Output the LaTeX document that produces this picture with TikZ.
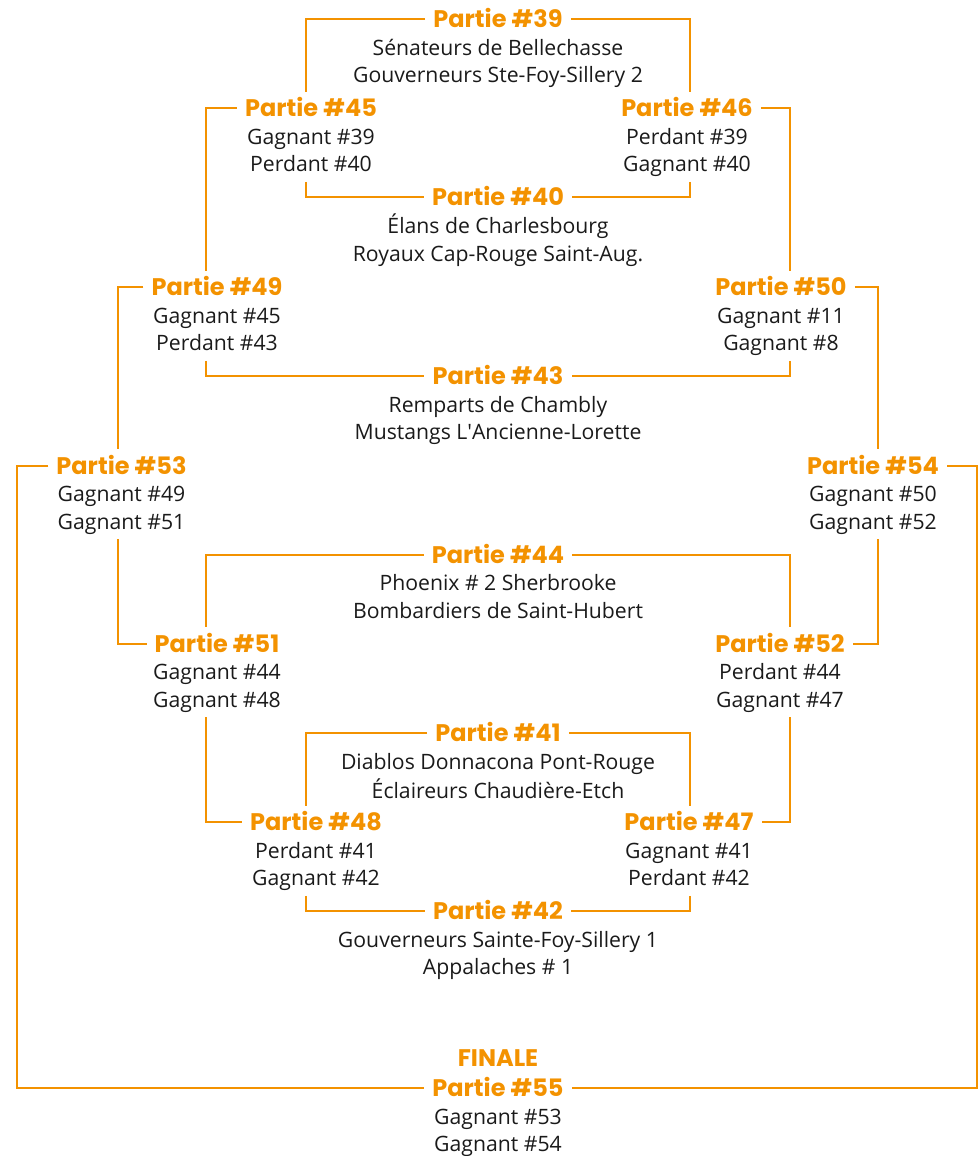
\documentclass[tikz,border=0pt]{standalone}
\usepackage{fontspec}
\setmainfont{Open Sans}
\newfontfamily\headfont{Poppins}
\definecolor{org}{RGB}{243,146,0}
\definecolor{ink}{RGB}{26,26,26}
\tikzset{
  conn/.style={draw=org, line width=2.3pt},
  head/.style={font=\headfont\bfseries\fontsize{24}{24}\selectfont, text=org,
    text height=16.5pt, text depth=0pt, inner xsep=8pt, inner ysep=8pt, anchor=base},
  body/.style={font=\fontsize{21.2}{27.5}\selectfont, align=center, inner xsep=0pt,
    inner ysep=1.75pt, anchor=north, text=ink}
}
\newcommand{\game}[6]{%
  \node[head] (h#1) at (#2,#3) {#4};
  \node[body] (t#1) at (#2,#3+6.5) {\strut #5\\#6\strut};
}
\begin{document}
\begin{tikzpicture}[x=1pt,y=-1pt]
\useasboundingbox (0,0) rectangle (978,1156);
\foreach \n/\x in {1/17,2/118,3/206,4/306,5/690,6/790,7/878,8/977}
  \coordinate (c\n) at (\x,0);

\game{39}{498}{27.5}{Partie \#39}{Sénateurs de Bellechasse}{Gouverneurs Ste-Foy-Sillery 2}
\game{45}{311}{116.5}{Partie \#45}{Gagnant \#39}{Perdant \#40}
\game{46}{687}{116.5}{Partie \#46}{Perdant \#39}{Gagnant \#40}
\game{40}{498}{205.5}{Partie \#40}{Élans de Charlesbourg}{Royaux Cap-Rouge Saint-Aug.}
\game{49}{217}{295.5}{Partie \#49}{Gagnant \#45}{Perdant \#43}
\game{50}{781}{295.5}{Partie \#50}{Gagnant \#11}{Gagnant \#8}
\game{43}{498}{384.5}{Partie \#43}{Remparts de Chambly}{Mustangs L\textquotesingle Ancienne-Lorette}
\game{53}{121.5}{474}{Partie \#53}{Gagnant \#49}{Gagnant \#51}
\game{54}{873}{474}{Partie \#54}{Gagnant \#50}{Gagnant \#52}
\game{44}{498}{563}{Partie \#44}{Phoenix \# 2 Sherbrooke}{Bombardiers de Saint-Hubert}
\game{51}{217}{652}{Partie \#51}{Gagnant \#44}{Gagnant \#48}
\game{52}{780}{652}{Partie \#52}{Perdant \#44}{Gagnant \#47}
\game{41}{498}{741.5}{Partie \#41}{Diablos Donnacona Pont-Rouge}{Éclaireurs Chaudière-Etch}
\game{48}{316}{830.5}{Partie \#48}{Perdant \#41}{Gagnant \#42}
\game{47}{689}{830.5}{Partie \#47}{Gagnant \#41}{Perdant \#42}
\game{42}{498}{919.5}{Partie \#42}{Gouverneurs Sainte-Foy-Sillery 1}{Appalaches \# 1}
\node[head] (hfin) at (498,1066) {FINALE};
\game{55}{498}{1096.5}{Partie \#55}{Gagnant \#53}{Gagnant \#54}

\draw[conn] (h39.west) -| (c4 |- h45.north);
\draw[conn] (h39.east) -| (c5 |- h46.north);
\draw[conn] (h45.west) -| (c3 |- h49.north);
\draw[conn] (c4 |- t45.south) |- (h40.west);
\draw[conn] (h46.east) -| (c6 |- h50.north);
\draw[conn] (c5 |- t46.south) |- (h40.east);
\draw[conn] (h49.west) -| (c2 |- h53.north);
\draw[conn] (c3 |- t49.south) |- (h43.west);
\draw[conn] (h50.east) -| (c7 |- h54.north);
\draw[conn] (c6 |- t50.south) |- (h43.east);
\draw[conn] (h53.west) -| (c1 |- h55.west) -- (h55.west);
\draw[conn] (c2 |- t53.south) |- (h51.west);
\draw[conn] (h54.east) -| (c8 |- h55.east) -- (h55.east);
\draw[conn] (c7 |- t54.south) |- (h52.east);
\draw[conn] (h44.west) -| (c3 |- h51.north);
\draw[conn] (h44.east) -| (c6 |- h52.north);
\draw[conn] (c3 |- t51.south) |- (h48.west);
\draw[conn] (c6 |- t52.south) |- (h47.east);
\draw[conn] (h41.west) -| (c4 |- h48.north);
\draw[conn] (h41.east) -| (c5 |- h47.north);
\draw[conn] (c4 |- t48.south) |- (h42.west);
\draw[conn] (c5 |- t47.south) |- (h42.east);
\end{tikzpicture}
\end{document}
